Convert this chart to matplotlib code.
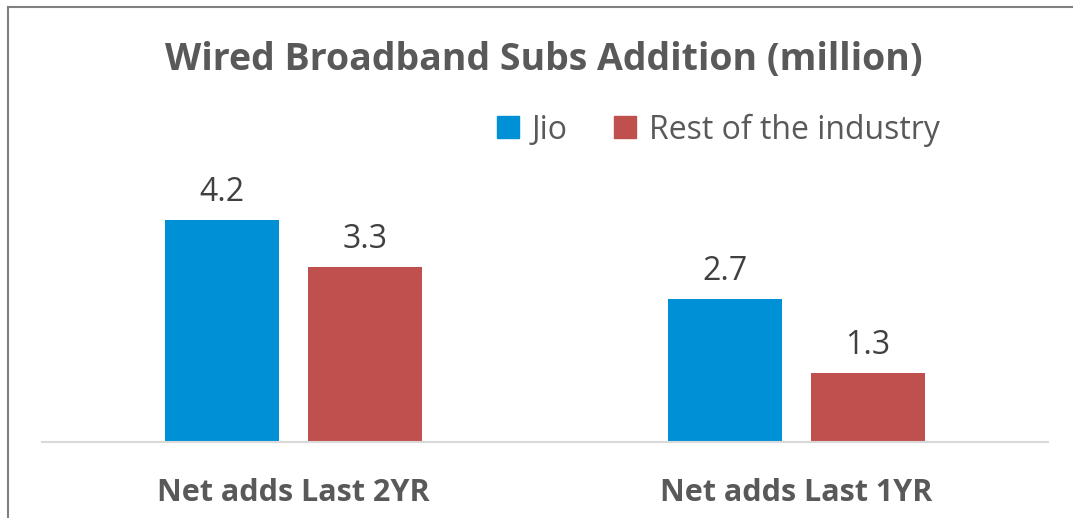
import matplotlib.pyplot as plt
from matplotlib.lines import Line2D
import numpy as np

categories = ['Net adds Last 2YR', 'Net adds Last 1YR']
series_names = ['Jio', 'Rest of the industry']
jio = [4.2, 2.7]
rest = [3.3, 1.3]

BLUE = '#0090D6'
RED = '#C0504D'
GRAY = '#595959'

plt.rcParams['font.family'] = ['Open Sans', 'DejaVu Sans']

fig = plt.figure(figsize=(10.73, 5.18), dpi=100)
ax = fig.add_axes([42 / 1073, 76 / 518, 1006 / 1073, 238 / 518])

x = np.arange(len(categories))
w = 0.225
off = 0.142
b1 = ax.bar(x - off, jio, w, color=BLUE, label=series_names[0])
b2 = ax.bar(x + off, rest, w, color=RED, label=series_names[1])

for bars, vals in [(b1, jio), (b2, rest)]:
    for r, v in zip(bars, vals):
        ax.annotate(f'{v:.1f}', (r.get_x() + r.get_width() / 2, v),
                    xytext=(0, 8), textcoords='offset points',
                    ha='center', va='bottom', fontsize=23, color='#404040')

ax.set_xlim(-0.5, 1.5)
ax.set_ylim(0, 4.5)
ax.set_yticks([])
ax.set_xticks(x)
ax.set_xticklabels(categories, fontsize=22, fontweight='bold', color=GRAY)
ax.tick_params(axis='x', length=0, pad=26)
for s in ['top', 'right', 'left']:
    ax.spines[s].set_visible(False)
ax.spines['bottom'].set_color('#D9D9D9')
ax.spines['bottom'].set_linewidth(1.5)

fig.text(0.507, 0.885, 'Wired Broadband Subs Addition (million)',
         ha='center', va='center', fontsize=27, fontweight='bold', color=GRAY)

handles = [Line2D([], [], marker='s', linestyle='', markersize=16, color=c) for c in (BLUE, RED)]
leg = fig.legend(handles, series_names, loc='center', bbox_to_anchor=(0.667, 0.749),
                 ncol=2, frameon=False, fontsize=23, handletextpad=0.25,
                 columnspacing=1.3, handlelength=1.0)
for t in leg.get_texts():
    t.set_color(GRAY)

# chart border (top and left only visible)
fig.add_artist(Line2D([8 / 1073, 8 / 1073], [0, 1 - 7 / 518], color='#808080', lw=1.5))
fig.add_artist(Line2D([8 / 1073, 1], [1 - 7 / 518, 1 - 7 / 518], color='#808080', lw=1.5))

fig.savefig('out.png', dpi=100)
